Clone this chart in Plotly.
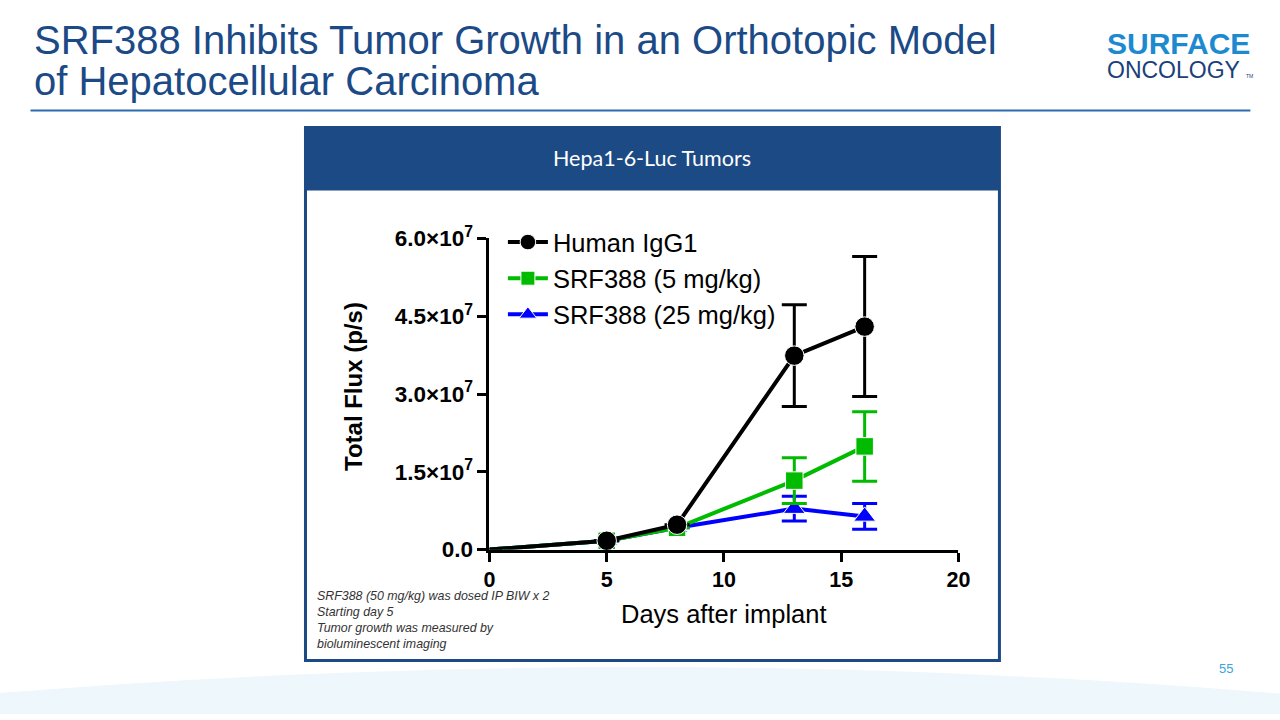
import plotly.graph_objects as go

# ---- data ----
days = [0, 5, 8, 13, 16]
igg1 = [0, 1.7e6, 4.8e6, 37.4e6, 43.0e6]
igg1_err = [None, None, None, 9.8e6, 13.5e6]
srf5 = [0, 1.7e6, 4.2e6, 13.3e6, 19.9e6]
srf5_err = [None, None, None, 4.4e6, 6.7e6]
srf25 = [0, 1.7e6, 4.2e6, 7.9e6, 6.4e6]
srf25_err = [None, None, None, 2.4e6, 2.5e6]

y_tickvals = [0, 1.5e7, 3.0e7, 4.5e7, 6.0e7]
y_ticktext = ["<b>0.0</b>", "<b>1.5×10<sup>7</sup></b>", "<b>3.0×10<sup>7</sup></b>",
              "<b>4.5×10<sup>7</sup></b>", "<b>6.0×10<sup>7</sup></b>"]
x_tickvals = [0, 5, 10, 15, 20]

W, H = 1280, 720
# slide pixel position -> page position (compensates the photo framing)
AX, SX, AY, SY = 5.5, 0.986, 15.6, 0.9594
def px(x):
    return ((x - AX) / SX) / W
def py(y):
    return 1 - ((y - AY) / SY) / H

ARIAL = "Arial, Liberation Sans, sans-serif"
DARK = "#1c4a84"

fig = go.Figure()

series = [
    ("SRF388 (25 mg/kg)", srf25, srf25_err, "#0000ff", "triangle-up", 19, 3),
    ("SRF388 (5 mg/kg)", srf5, srf5_err, "#00bb00", "square", 17.5, 2),
    ("Human IgG1", igg1, igg1_err, "#000000", "circle", 19.5, 1),
]
for name, vals, err, col, sym, size, rank in series:
    sizes = [0 if d == 0 else size for d in days]
    fig.add_trace(go.Scatter(
        x=days, y=vals, name=name, mode="lines+markers",
        line=dict(color=col, width=4),
        marker=dict(color=col, symbol=sym, size=sizes, opacity=1),
        error_y=dict(type="data", array=err, visible=True, color=col,
                     thickness=3, width=12.5),
        legendrank=rank, legendgroup=name, cliponaxis=False,
    ))

fig.update_layout(
    width=W, height=H, margin=dict(l=0, r=0, t=0, b=0),
    paper_bgcolor="white", plot_bgcolor="white",
    showlegend=True,
    legend=dict(x=504 / W, y=1 - 211.5 / H, xanchor="left", yanchor="top",
                font=dict(family=ARIAL, size=25.5, color="black"),
                bgcolor="rgba(0,0,0,0)", tracegroupgap=0, itemwidth=40,
                itemsizing="trace"),
    xaxis=dict(domain=[px(489), px(958)], range=[0, 20], tickvals=x_tickvals,
               ticktext=[f"<b>{v}</b>" for v in x_tickvals],
               showline=True, linecolor="black", linewidth=3,
               ticks="outside", ticklen=9, tickwidth=3, tickcolor="black",
               showgrid=False, zeroline=False,
               tickfont=dict(family=ARIAL, size=21.5, color="black")),
    yaxis=dict(domain=[py(549), py(238)], range=[0, 6e7], tickvals=y_tickvals,
               ticktext=y_ticktext,
               showline=True, linecolor="black", linewidth=3,
               ticks="outside", ticklen=9, tickwidth=3, tickcolor="black",
               showgrid=False, zeroline=False,
               tickfont=dict(family=ARIAL, size=22.5, color="black")),
)

shapes = []
# bottom wave
shapes.append(dict(type="path", xref="paper", yref="paper",
                   path=f"M -0.01 -0.01 L -0.01 {py(693)} Q 0.5 {py(640)} 1.01 {py(693)} L 1.01 -0.01 Z",
                   fillcolor="#eef7fb", line=dict(width=0), layer="below"))
# title rule
shapes.append(dict(type="line", xref="paper", yref="paper",
                   x0=px(30), x1=px(1250), y0=py(110), y1=py(110),
                   line=dict(color="#2b6cb0", width=2)))
# panel header
shapes.append(dict(type="rect", xref="paper", yref="paper",
                   x0=px(305), x1=px(999), y0=py(190), y1=py(127),
                   fillcolor=DARK, line=dict(width=0), layer="below"))
# panel border
shapes.append(dict(type="rect", xref="paper", yref="paper",
                   x0=px(305), x1=px(999), y0=py(660), y1=py(127),
                   fillcolor="rgba(0,0,0,0)", line=dict(color=DARK, width=3)))
fig.update_layout(shapes=shapes)

def note(x, y, text, size, color="black", family=ARIAL, xanchor="center", **kw):
    return dict(x=px(x), y=py(y), xref="paper", yref="paper", xanchor=xanchor,
                yanchor="middle", align="left", showarrow=False, text=text,
                font=dict(family=family, size=size, color=color), **kw)

ann = [
    note(32, 40, "SRF388 Inhibits Tumor Growth in an Orthotopic Model", 40, "#1b4a86", xanchor="left"),
    note(32, 81, "of Hepatocellular Carcinoma", 40, "#1b4a86", xanchor="left"),
    note(1252, 43, "<b>SURFACE</b>", 30, "#1d8ad0", xanchor="right"),
    note(1242, 70, "ONCOLOGY", 23, "#1b3f7a", xanchor="right"),
    note(1244, 76, "TM", 5, "#1b3f7a", xanchor="left"),
    note(652, 158, "Hepa1-6-Luc Tumors", 21.5, "white", family="Lato, Open Sans, sans-serif"),
    note(353, 386, "<b>Total Flux (p/s)</b>", 24, textangle=-90),
    note(724, 613, "Days after implant", 25.5),
    note(315, 619, "<i>SRF388 (50 mg/kg) was dosed IP BIW x 2<br>Starting day 5<br>"
                   "Tumor growth was measured by<br>bioluminescent imaging</i>",
         12.4, "#333333", xanchor="left"),
    note(1226, 668, "55", 13, "#3aa5d8"),
]
fig.update_layout(annotations=ann)

fig.write_html("out.html", config={"displayModeBar": False},
               post_script="document.body.style.margin='0px';document.body.style.overflow='hidden';document.documentElement.style.overflow='hidden';")
